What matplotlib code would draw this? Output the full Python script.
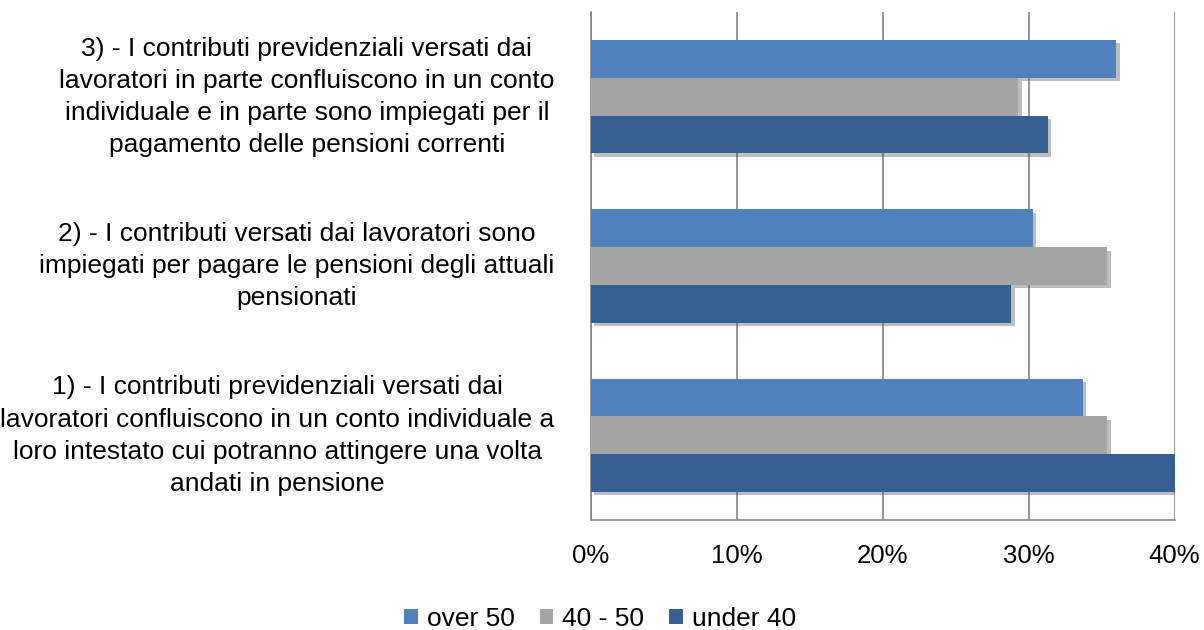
import numpy as np
import matplotlib
matplotlib.use('Agg')
import matplotlib.pyplot as plt
import matplotlib.patheffects as pe
import matplotlib.transforms as mtransforms
from matplotlib.patches import Patch
from matplotlib.ticker import PercentFormatter

# categories, bottom to top as drawn
categories = [
    '1) - I contributi previdenziali versati dai\nlavoratori confluiscono in un conto individuale a\nloro intestato cui potranno attingere una volta\nandati in pensione',
    '2) - I contributi versati dai lavoratori sono\nimpiegati per pagare le pensioni degli attuali\npensionati',
    '3) - I contributi previdenziali versati dai\nlavoratori in parte confluiscono in un conto\nindividuale e in parte sono impiegati per il\npagamento delle pensioni correnti',
]
over_50 = [33.7, 30.3, 36.0]
age_40_50 = [35.4, 35.4, 29.3]
under_40 = [40.0, 28.8, 31.3]

series = [('over 50', over_50, '#4F81BD'),
          ('40 - 50', age_40_50, '#A5A5A5'),
          ('under 40', under_40, '#376092')]

plt.rcParams['font.family'] = ['Liberation Sans', 'DejaVu Sans']

fig = plt.figure(figsize=(12.04, 6.3), dpi=100)
ax = fig.add_axes([0.4906, 0.1746, 0.4850, 0.8064])

y = np.arange(len(categories))
h = 0.223
shadow = [pe.SimplePatchShadow(offset=(2.5, -2.5), shadow_rgbFace='#444444', alpha=0.35), pe.Normal()]
offsets = [h, 0, -h]
handles = []
for (name, vals, col), off in zip(series, offsets):
    b = ax.barh(y + off, vals, height=h, color=col, zorder=3)
    for p in b.patches:
        p.set_path_effects(shadow)
    handles.append(Patch(facecolor=col, label=name))

ax.set_xlim(0, 40)
ax.set_ylim(-0.5, 2.5)
ax.set_xticks([0, 10, 20, 30, 40])
ax.xaxis.set_major_formatter(PercentFormatter(decimals=0))
ax.set_yticks(y)
ax.set_yticklabels(categories, multialignment='center', linespacing=1.43)
ax.tick_params(axis='y', length=0, pad=26, labelsize=19)
ax.tick_params(axis='x', length=0, pad=17, labelsize=18.5)
# nudge category labels up a little
shift = mtransforms.ScaledTranslation(0, 4.5 / 72, fig.dpi_scale_trans)
for lab in ax.get_yticklabels():
    lab.set_transform(lab.get_transform() + shift)
ax.grid(axis='x', color='#868686', linewidth=1.2, zorder=0)
for s in ['top', 'right']:
    ax.spines[s].set_visible(False)
ax.spines['left'].set_color('#868686')
ax.spines['bottom'].set_color('#868686')
ax.spines['left'].set_linewidth(1.2)
ax.spines['bottom'].set_linewidth(1.2)

fig.legend(handles=handles, loc='center', bbox_to_anchor=(0.4985, 0.017), ncol=3,
           frameon=False, fontsize=19, handlelength=0.5, handleheight=0.5,
           handletextpad=0.35, columnspacing=0.95, borderaxespad=0)

fig.savefig('out.png', dpi=100)
